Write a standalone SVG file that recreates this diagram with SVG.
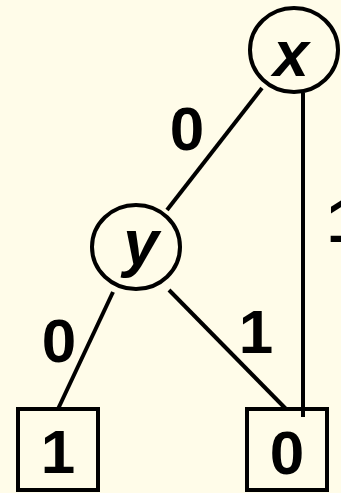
<svg xmlns="http://www.w3.org/2000/svg" width="341" height="493" viewBox="0 0 341 493">
<style>
.n{fill:none;stroke:#000;stroke-width:4}
.e{stroke:#000;stroke-width:4;fill:none}
.t{font-family:"Liberation Sans",Arial,sans-serif;font-weight:bold;font-size:62px;fill:#000;text-anchor:middle}
.v{font-style:italic;font-size:64px}
</style>
<rect width="341" height="493" fill="#fffce9"/>
<g id="edges">
<line class="e" x1="262" y1="88" x2="167" y2="210"/>
<line class="e" x1="303" y1="93" x2="303" y2="417"/>
<line class="e" x1="113" y1="292" x2="58" y2="409"/>
<line class="e" x1="169" y1="290" x2="286" y2="409"/>
<text class="t" x="187" y="150">0</text>
<text class="t" x="344" y="242">1</text>
<text class="t" x="59" y="362">0</text>
<text class="t" x="256" y="353">1</text>
</g>
<g id="node-x">
<ellipse class="n" cx="294" cy="50" rx="44" ry="42"/>
<text class="t v" x="291" y="76">x</text>
</g>
<g id="node-y">
<ellipse class="n" cx="136" cy="247" rx="44" ry="42"/>
<text class="t v" x="141" y="265">y</text>
</g>
<g id="leaf-1">
<rect class="n" x="18" y="409" width="80" height="81"/>
<text class="t" x="58" y="473">1</text>
</g>
<g id="leaf-0">
<rect class="n" x="247" y="409" width="80" height="81"/>
<text class="t" x="287" y="474">0</text>
</g>
</svg>
